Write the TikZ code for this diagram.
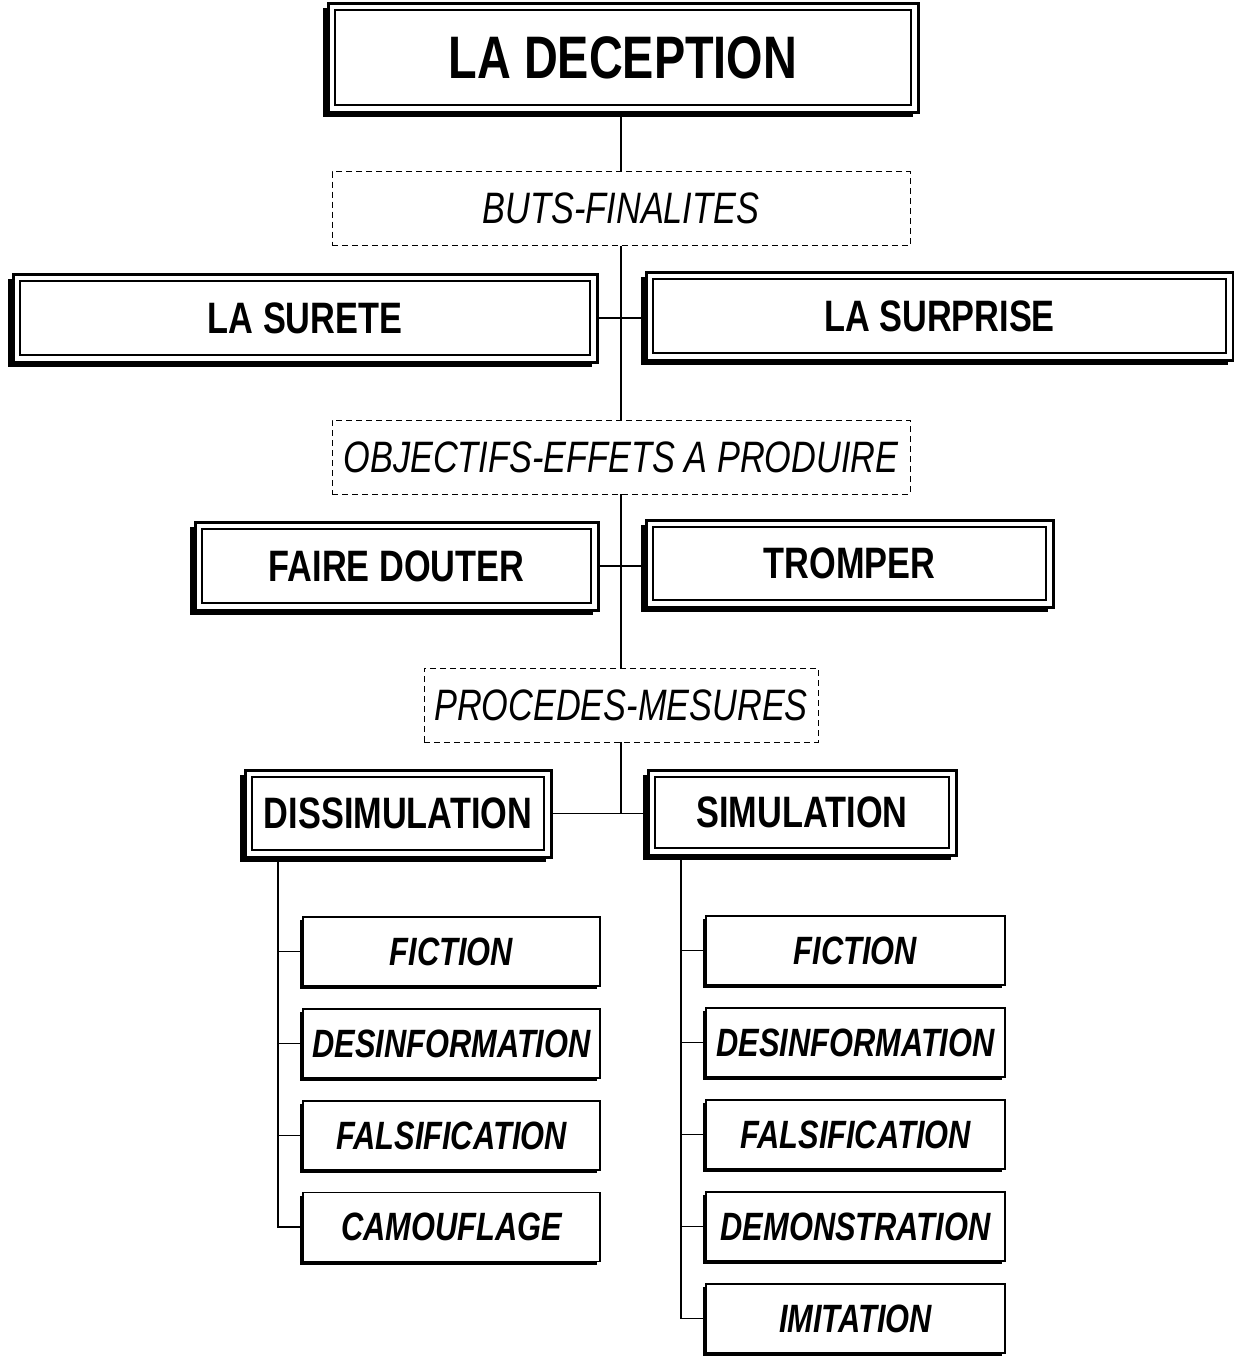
\documentclass[tikz,border=0pt]{standalone}
\usepackage{fontspec}
\newfontfamily\nar[FakeStretch=0.78]{Liberation Sans}
\usetikzlibrary{shadows}
\begin{document}
\begin{tikzpicture}[x=1pt,y=-1pt,
  bigbox/.style={draw, line width=3pt, fill=white, outer sep=0pt, inner sep=0pt,
    drop shadow={shadow xshift=-5pt, shadow yshift=-5pt, opacity=1, fill=black},
    font=\nar\bfseries\fontsize{44}{44}\selectfont},
  smallbox/.style={draw, line width=1.5pt, fill=white, outer sep=0pt, inner sep=0pt,
    minimum height=69pt,
    drop shadow={shadow xshift=-3pt, shadow yshift=-3pt, opacity=1, fill=black},
    font=\nar\bfseries\itshape\fontsize{39.5}{39.5}\selectfont},
  dashbox/.style={draw, line width=1pt, dash pattern=on 6pt off 4pt, outer sep=0pt, inner sep=0pt,
    minimum height=74pt, font=\nar\itshape\fontsize{44}{44}\selectfont},
  link/.style={line width=1.3pt}]
\useasboundingbox (0,0) rectangle (1234,1360);

% big boxes
\node[bigbox, minimum width=590pt, minimum height=109pt, font=\nar\bfseries\fontsize{60}{60}\selectfont] (dec) at (623,57.5) {LA DECEPTION};
\node[bigbox, minimum width=584pt, minimum height=88pt] (sur) at (305,318) {LA SURETE};
\node[bigbox, minimum width=587pt, minimum height=88pt] (surp) at (939.5,316) {LA SURPRISE};
\node[bigbox, minimum width=403pt, minimum height=88pt] (faire) at (396.5,566) {FAIRE DOUTER};
\node[bigbox, minimum width=407pt, minimum height=87pt] (tromp) at (849.5,563.5) {TROMPER};
\node[bigbox, minimum width=306pt, minimum height=87pt] (diss) at (398,813.5) {DISSIMULATION};
\node[bigbox, minimum width=308pt, minimum height=85pt] (simu) at (802,812.5) {SIMULATION};

\foreach \n in {dec,sur,surp,faire,tromp,diss,simu}
  \draw[line width=1.2pt] ([shift={(7,7)}]\n.north west) rectangle ([shift={(-7,-7)}]\n.south east);

% dashed boxes
\node[dashbox, minimum width=578pt] (d1) at (621,208.5) {BUTS-FINALITES};
\node[dashbox, minimum width=578pt] (d2) at (621,457) {OBJECTIFS-EFFETS A PRODUIRE};
\node[dashbox, minimum width=394pt] (d3) at (621,705) {PROCEDES-MESURES};

% small boxes left
\node[smallbox, minimum width=297pt] (l1) at (451.5,951.5) {FICTION};
\node[smallbox, minimum width=297pt] (l2) at (451.5,1043.5) {DESINFORMATION};
\node[smallbox, minimum width=297pt] (l3) at (451.5,1135.5) {FALSIFICATION};
\node[smallbox, minimum width=297pt] (l4) at (451.5,1227) {CAMOUFLAGE};
% small boxes right
\node[smallbox, minimum width=299pt] (r1) at (855.5,950.5) {FICTION};
\node[smallbox, minimum width=299pt] (r2) at (855.5,1042.5) {DESINFORMATION};
\node[smallbox, minimum width=299pt] (r3) at (855.5,1134.5) {FALSIFICATION};
\node[smallbox, minimum width=299pt] (r4) at (855.5,1226.5) {DEMONSTRATION};
\node[smallbox, minimum width=299pt] (r5) at (855.5,1318.5) {IMITATION};

% trunk connectors
\draw[link] (d1.north |- dec.south) -- (d1.north);
\draw[link] (d1.south) -- (d2.north);
\draw[link] (sur.east) -- (sur.east -| surp.west);
\draw[link] (d2.south) -- (d3.north);
\draw[link] (faire.east) -- (faire.east -| tromp.west);
\draw[link] (d3.south) -- (d3.south |- simu.west);
\draw[link] (diss.east) -- (diss.east -| simu.west);

% left tree
\coordinate (lt) at (278,857);
\draw[link] (lt) |- (l4.west);
\foreach \n in {l1,l2,l3} \draw[link] (lt |- \n.west) -- (\n.west);
% right tree
\coordinate (rt) at (681,855);
\draw[link] (rt) |- (r5.west);
\foreach \n in {r1,r2,r3,r4} \draw[link] (rt |- \n.west) -- (\n.west);
\end{tikzpicture}
\end{document}
